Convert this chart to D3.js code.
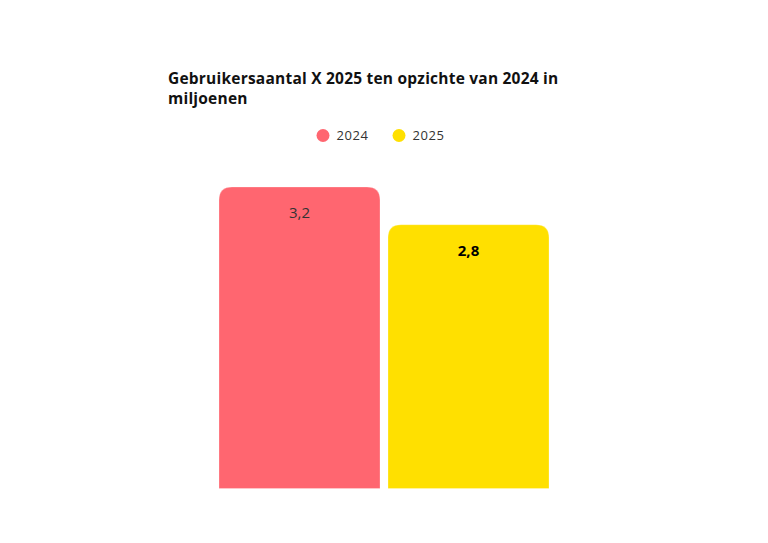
<!DOCTYPE html>
<html>
<head>
<meta charset="utf-8">
<script src="https://cdn.jsdelivr.net/npm/d3@7"></script>
<style>
  body { margin: 0; background: #fff; }
  text { font-family: "Open Sans", "Noto Sans", sans-serif; }
</style>
</head>
<body>
<svg id="chart"></svg>
<script>
const years = ["2024", "2025"];
const users = [3.2, 2.8]; // miljoenen
const valueLabels = ["3,2", "2,8"];
const barColors = ["#ff6670", "#ffe000"];

const width = 768;
const height = 543;
const plotTop = 187;
const plotBottom = 488.5;

const svg = d3.select("#chart").attr("width", width).attr("height", height);

// Title (two lines)
const title = svg
  .append("text")
  .attr("x", 168)
  .attr("y", 84)
  .style("font-size", "15.5px")
  .style("font-weight", "bold")
  .style("letter-spacing", "0.22px")
  .style("fill", "#111");
title.append("tspan").attr("x", 168).text("Gebruikersaantal X 2025 ten opzichte van 2024 in");
title.append("tspan").attr("x", 168).attr("dy", 20).text("miljoenen");

// Legend
const legendPos = [323, 399];
const legend = svg
  .selectAll(".legend")
  .data(years)
  .enter()
  .append("g")
  .attr("transform", (d, i) => `translate(${legendPos[i]},135.5)`);

legend
  .append("circle")
  .attr("r", 6.5)
  .attr("fill", (d, i) => barColors[i]);

legend
  .append("text")
  .attr("x", 13.5)
  .attr("dy", "0.35em")
  .style("font-size", "13px")
  .style("letter-spacing", "0.6px")
  .style("fill", "#333")
  .text((d) => d);

// Scales
const x = d3.scaleBand().domain(years).range([219, 549]).paddingInner(8 / 169);
const y = d3.scaleLinear().domain([0, d3.max(users)]).range([plotBottom, plotTop]);

// Bar with rounded top corners only
function topRoundedBar(x0, y0, w, h, r) {
  return `M${x0},${y0 + h}V${y0 + r}Q${x0},${y0} ${x0 + r},${y0}` +
    `H${x0 + w - r}Q${x0 + w},${y0} ${x0 + w},${y0 + r}V${y0 + h}Z`;
}

svg
  .selectAll(".bar")
  .data(users)
  .enter()
  .append("path")
  .attr("class", "bar")
  .attr("d", (d, i) => topRoundedBar(x(years[i]), y(d), x.bandwidth(), y(0) - y(d), 13))
  .attr("fill", (d, i) => barColors[i])
  .attr("stroke", "#ffffff")
  .attr("stroke-opacity", 0.25)
  .attr("stroke-width", 1);

// Value labels
svg
  .selectAll(".value")
  .data(users)
  .enter()
  .append("text")
  .attr("x", (d, i) => x(years[i]) + x.bandwidth() / 2)
  .attr("y", (d) => y(d) + 31)
  .attr("text-anchor", "middle")
  .style("font-size", "15px")
  .style("font-weight", (d, i) => (i === 1 ? "bold" : "normal"))
  .style("fill", (d, i) => (i === 1 ? "#000" : "#333"))
  .text((d, i) => valueLabels[i]);
</script>
</body>
</html>
